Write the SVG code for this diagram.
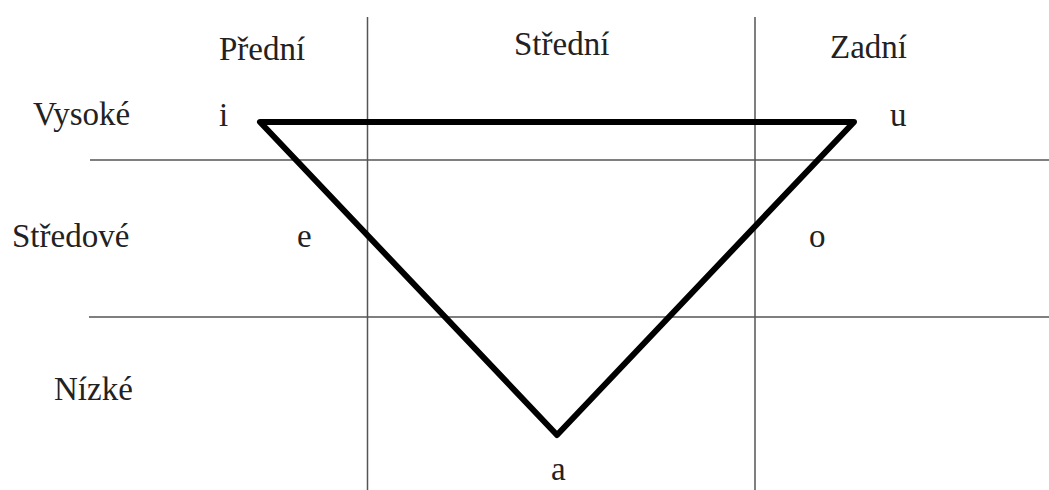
<svg xmlns="http://www.w3.org/2000/svg" width="1049" height="490" viewBox="0 0 1049 490">
<style>
.t{font-family:'Liberation Serif','Times New Roman',Times,'DejaVu Serif',serif;font-size:33px;fill:#222}
.g{stroke:#555;stroke-width:1.5;fill:none}
.tri{stroke:#000;stroke-width:6;fill:none;stroke-linejoin:round}
</style>
<rect width="1049" height="490" fill="#fff"/>
<g id="grid">
<line class="g" x1="367.5" y1="17" x2="367.5" y2="490"/>
<line class="g" x1="755" y1="17" x2="755" y2="490"/>
<line class="g" x1="90" y1="160" x2="1049" y2="160"/>
<line class="g" x1="89" y1="317" x2="1049" y2="317"/>
</g>
<g id="triangle">
<polygon class="tri" points="260,122 854,122 557,435"/>
</g>
<g id="headers">
<text class="t" x="219" y="60">Přední</text>
<text class="t" x="514" y="55">Střední</text>
<text class="t" x="830" y="58">Zadní</text>
</g>
<g id="rows">
<text class="t" x="33" y="125">Vysoké</text>
<text class="t" x="12" y="247">Středové</text>
<text class="t" x="54" y="400">Nízké</text>
</g>
<g id="vowels">
<text class="t" x="219" y="126">i</text>
<text class="t" x="890" y="126">u</text>
<text class="t" x="297" y="247">e</text>
<text class="t" x="809" y="247">o</text>
<text class="t" x="551" y="480">a</text>
</g>
</svg>
